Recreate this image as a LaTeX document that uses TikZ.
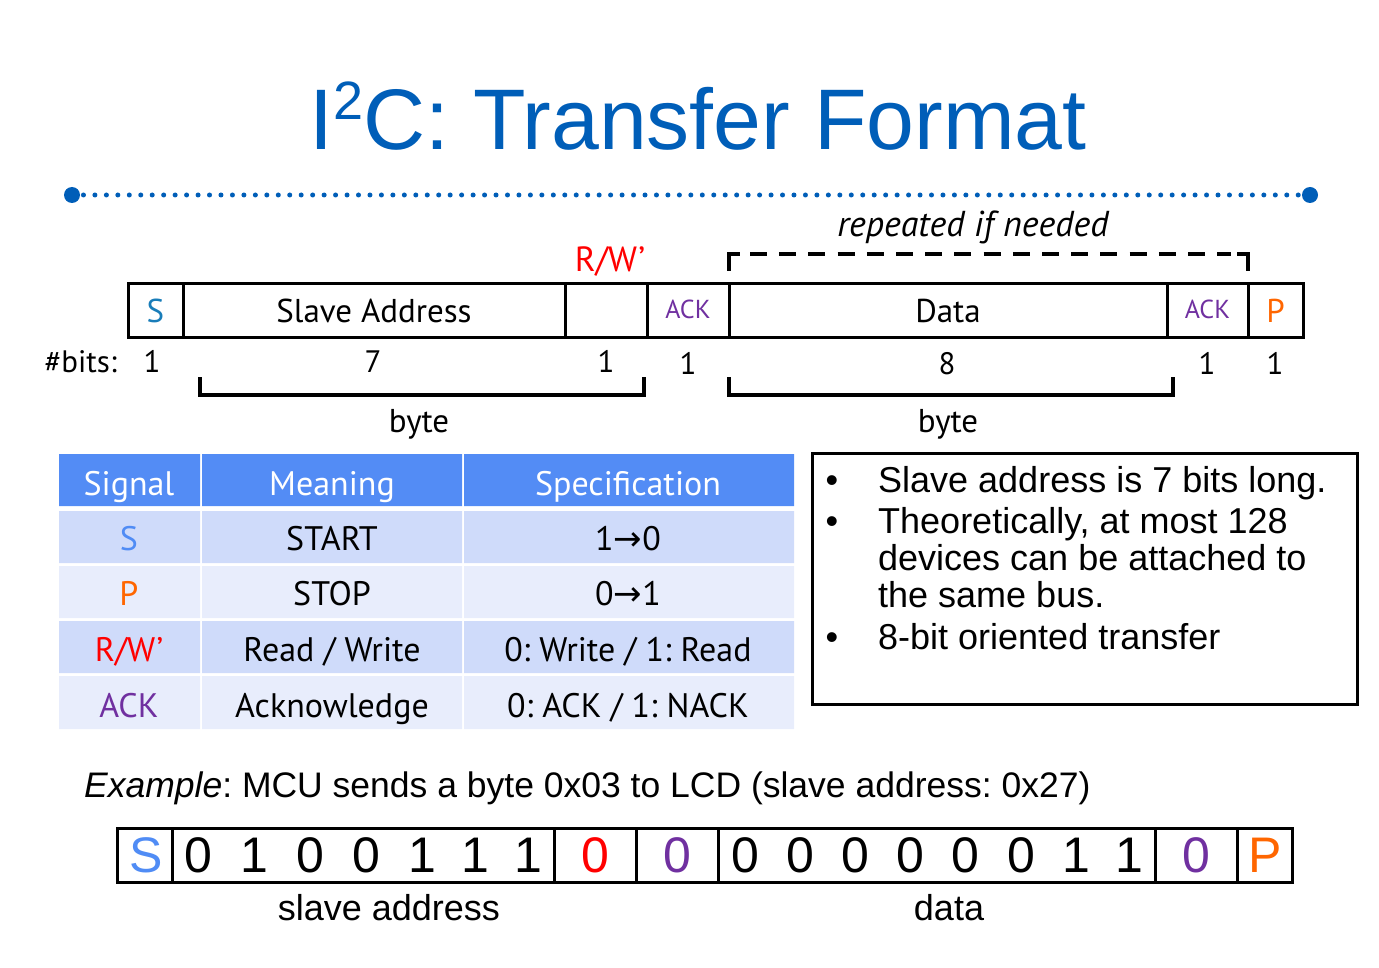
\documentclass[tikz,border=0pt]{standalone}
\usepackage{fontspec}
\setmainfont{Liberation Sans}
\newfontfamily\nar{PT Sans}
\newfontfamily\sym{DejaVu Sans}
\newcommand\fsz[1]{\fontsize{#1}{#1}\selectfont}
\frenchspacing
\definecolor{titleblue}{RGB}{0,94,184}
\definecolor{hdrblue}{RGB}{83,140,245}
\definecolor{rowdark}{RGB}{207,219,250}
\definecolor{rowlight}{RGB}{232,237,252}
\definecolor{steal}{RGB}{25,125,185}
\definecolor{sblue}{RGB}{80,140,245}
\definecolor{porange}{RGB}{255,102,0}
\definecolor{rwred}{RGB}{255,0,0}
\definecolor{ackpurple}{RGB}{112,48,160}
\tikzset{
  lbl/.style={inner sep=0pt, anchor=base, font=\nar\fsz{33}},
  num/.style={inner sep=0pt, anchor=base, font=\nar\fsz{31}},
  small/.style={inner sep=0pt, anchor=base, font=\nar\fsz{26}},
  frame/.style={line width=3pt},
  brace/.style={line width=4pt},
  cell/.style={inner sep=0pt, anchor=base, font=\nar\fsz{34}},
  bullet/.style={inner sep=0pt, anchor=base west, font=\fsz{36}},
  bit/.style={inner sep=0pt, anchor=base, font=\fsz{50}},
  caption/.style={inner sep=0pt, anchor=base, font=\fsz{36}},
}
\newcommand\arr{{\sym\fsz{34}→}}
\begin{document}
\begin{tikzpicture}[x=1pt,y=-1pt]
\useasboundingbox (0,0) rectangle (1379,968);

% title and rule
\node[inner sep=0pt, anchor=base, font=\fsz{86}, text=titleblue] (title) at (698,150)
  {I\raisebox{0.36em}{\fsz{54}2}C: Transfer Format};
\coordinate (rl) at (72,195);
\coordinate (rr) at (1310,195);
\draw[titleblue, line width=5pt, line cap=round, dash pattern=on 0pt off 11.46pt] (rl) -- (rr);
\fill[titleblue] (rl) circle (8) (rr) circle (8);

% transfer format frame
\draw[frame] (128,284) rectangle (1303,338);
\foreach \x in {183,565,647,729,1167,1248} \draw[frame] (\x,284) -- (\x,338);
\node[lbl, text=steal] (fS) at (155.5,323) {S};
\node[lbl] (fAddr) at (374,323) {Slave Address};
\node[small, text=ackpurple] (fAck1) at (688,319) {ACK};
\node[lbl] (fData) at (948,323) {Data};
\node[small, text=ackpurple] (fAck2) at (1207.5,319) {ACK};
\node[lbl, text=porange] (fP) at (1275.5,323) {P};
\node[lbl, font=\nar\fsz{35}, text=rwred] (fRW) at (610,272) {R/W’};
\node[lbl, font=\nar\itshape\fsz{36}] (rep) at (973,237) {repeated if needed};
% dashed "repeated" bracket with solid corners
\draw[brace, dash pattern=on 17pt off 12.2pt, dash phase=-4pt] (746,254) -- (1231,254);
\draw[brace] (729,271) -- (729,254) -- (740,254);
\draw[brace] (1237,254) -- (1248,254) -- (1248,271);

% bit counts
\node[num, anchor=base east] (nb) at (117,372) {\#bits:};
\node[num] (n1) at (152,372) {1};
\node[num] (n2) at (373,372) {7};
\node[num] (n3) at (606,372) {1};
\node[num] (n4) at (688,374) {1};
\node[num] (n5) at (947,374) {8};
\node[num] (n6) at (1207,374) {1};
\node[num] (n7) at (1275,374) {1};

% byte braces
\draw[brace] (200,377) -- (200,395) -- (644,395) -- (644,377);
\draw[brace] (729,377) -- (729,395) -- (1173,395) -- (1173,377);
\node[lbl] (b1) at (419,432) {byte};
\node[lbl] (b2) at (948,432) {byte};

% signal table
\fill[hdrblue] (59,454) rectangle (200,506) (202,454) rectangle (462,506) (464,454) rectangle (794,506);
\fill[rowdark] (59,511) rectangle (200,563) (202,511) rectangle (462,563) (464,511) rectangle (794,563);
\fill[rowlight] (59,566) rectangle (200,618) (202,566) rectangle (462,618) (464,566) rectangle (794,618);
\fill[rowdark] (59,621) rectangle (200,673) (202,621) rectangle (462,673) (464,621) rectangle (794,673);
\fill[rowlight] (59,676) rectangle (200,729) (202,676) rectangle (462,729) (464,676) rectangle (794,729);
\node[cell, text=white] (h1) at (129,495) {Signal};
\node[cell, text=white] (h2) at (332,495) {Meaning};
\node[cell, text=white] (h3) at (628,495) {Specification};
\node[cell, text=sblue] (s1) at (129,550) {S};
\node[cell] (m1) at (332,550) {START};
\node[cell] (p1) at (628,550) {1\arr0};
\node[cell, text=porange] (s2) at (129,605) {P};
\node[cell] (m2) at (332,605) {STOP};
\node[cell] (p2) at (628,605) {0\arr1};
\node[cell, text=rwred] (s3) at (129,661) {R/W’};
\node[cell] (m3) at (332,661) {Read / Write};
\node[cell] (p3) at (628,661) {0: Write / 1: Read};
\node[cell, text=ackpurple] (s4) at (129,717) {ACK};
\node[cell] (m4) at (332,717) {Acknowledge};
\node[cell] (p4) at (628,717) {0: ACK / 1: NACK};

% notes
\draw[frame] (812,453) rectangle (1357,704);
\foreach \y/\t [count=\i] in {
  492/Slave address is 7 bits long.,
  533/{Theoretically, at most 128},
  570/devices can be attached to,
  607/the same bus.,
  649/8-bit oriented transfer}
  \node[bullet] (t\i) at (878,\y) {\t};
\foreach \y [count=\i] in {492,533,649}
  \node[bullet, anchor=base] (d\i) at (832,\y) {•};

% example
\node[caption, anchor=base west, font=\fsz{35.5}] (ex) at (84,797) {\textit{Example}: MCU sends a byte 0x03 to LCD (slave address: 0x27)};
\draw[frame] (117,828) rectangle (1292,882);
\foreach \x in {172,554,636,718,1155,1237} \draw[frame] (\x,828) -- (\x,882);
\node[bit, text=sblue] (eS) at (146,872) {S};
\foreach \x/\b [count=\i] in {198/0,254/1,310/0,366/0,422/1,475/1,528/1}
  \node[bit] (a\i) at (\x,872) {\b};
\node[bit, text=rwred] (eRW) at (595,872) {0};
\node[bit, text=ackpurple] (eA1) at (677,872) {0};
\foreach \x/\b [count=\i] in {745/0,800/0,855/0,910/0,965/0,1021/0,1076/1,1129/1}
  \node[bit] (e\i) at (\x,872) {\b};
\node[bit, text=ackpurple] (eA2) at (1196,872) {0};
\node[bit, text=porange] (eP) at (1265,872) {P};
\node[caption] (sa) at (389,920) {slave address};
\node[caption] (da) at (949,920) {data};
\end{tikzpicture}
\end{document}
